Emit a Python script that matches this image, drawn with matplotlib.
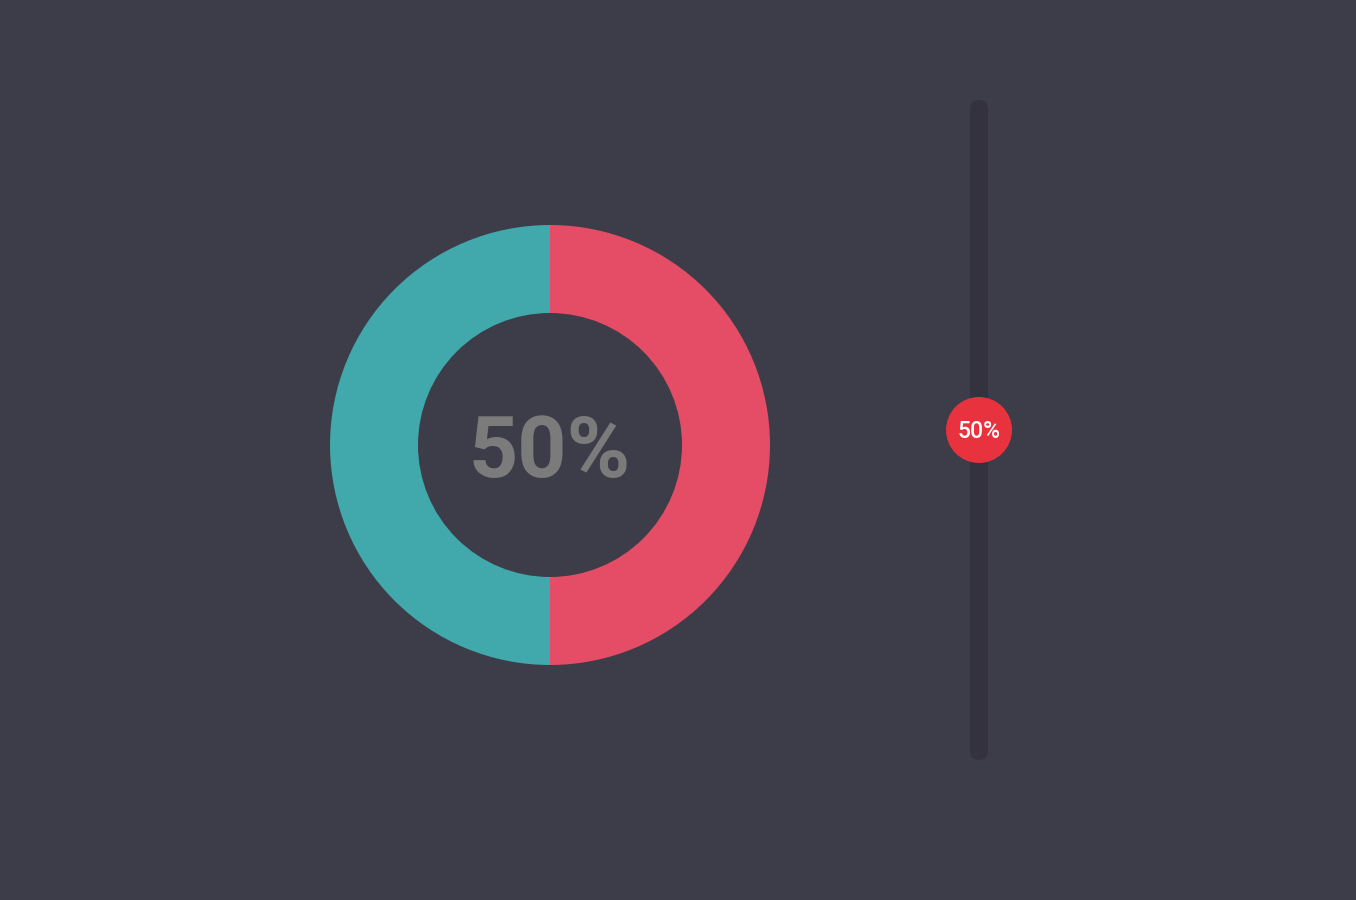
import matplotlib.pyplot as plt
from matplotlib.patches import FancyBboxPatch, Circle

plt.rcParams['font.family'] = ['Roboto', 'DejaVu Sans']

# data
value = 50
shares = [value, 100 - value]
share_colors = ['#e54d66', '#41a8ab']
label = f'{value}%'

bg = '#3d3c49'
W, H = 1356, 900

fig = plt.figure(figsize=(W / 100, H / 100), dpi=100, facecolor=bg)
ax = fig.add_axes([0, 0, 1, 1])

# donut
cx, cy = 550, H - 445
ax.pie(shares, colors=share_colors, startangle=90, counterclock=False,
       radius=220, center=(cx, cy), frame=True,
       wedgeprops=dict(width=88, linewidth=0))
ax.set_xlim(0, W)
ax.set_ylim(0, H)
ax.set_aspect('equal')
ax.axis('off')
ax.text(cx, cy - 8, label, ha='center', va='center', fontsize=62,
        fontweight='bold', color='#7b7b7b')

# slider
track_x, track_top, track_bot = 979, H - 100, H - 760
track_w = 18
ax.add_patch(FancyBboxPatch((track_x - track_w / 2, track_bot), track_w,
                            track_top - track_bot,
                            boxstyle='round,pad=0,rounding_size=9',
                            fc='#33323e', ec='none'))
ky = track_top - (1 - value / 100) * (track_top - track_bot)
ax.add_patch(Circle((track_x, ky), 33, fc='#e8333f', ec='none', zorder=3))
ax.text(track_x, ky - 1, label, ha='center', va='center', fontsize=16.5,
        fontweight='medium', color='white', zorder=4)

fig.savefig('out.png', dpi=100, facecolor=bg)
